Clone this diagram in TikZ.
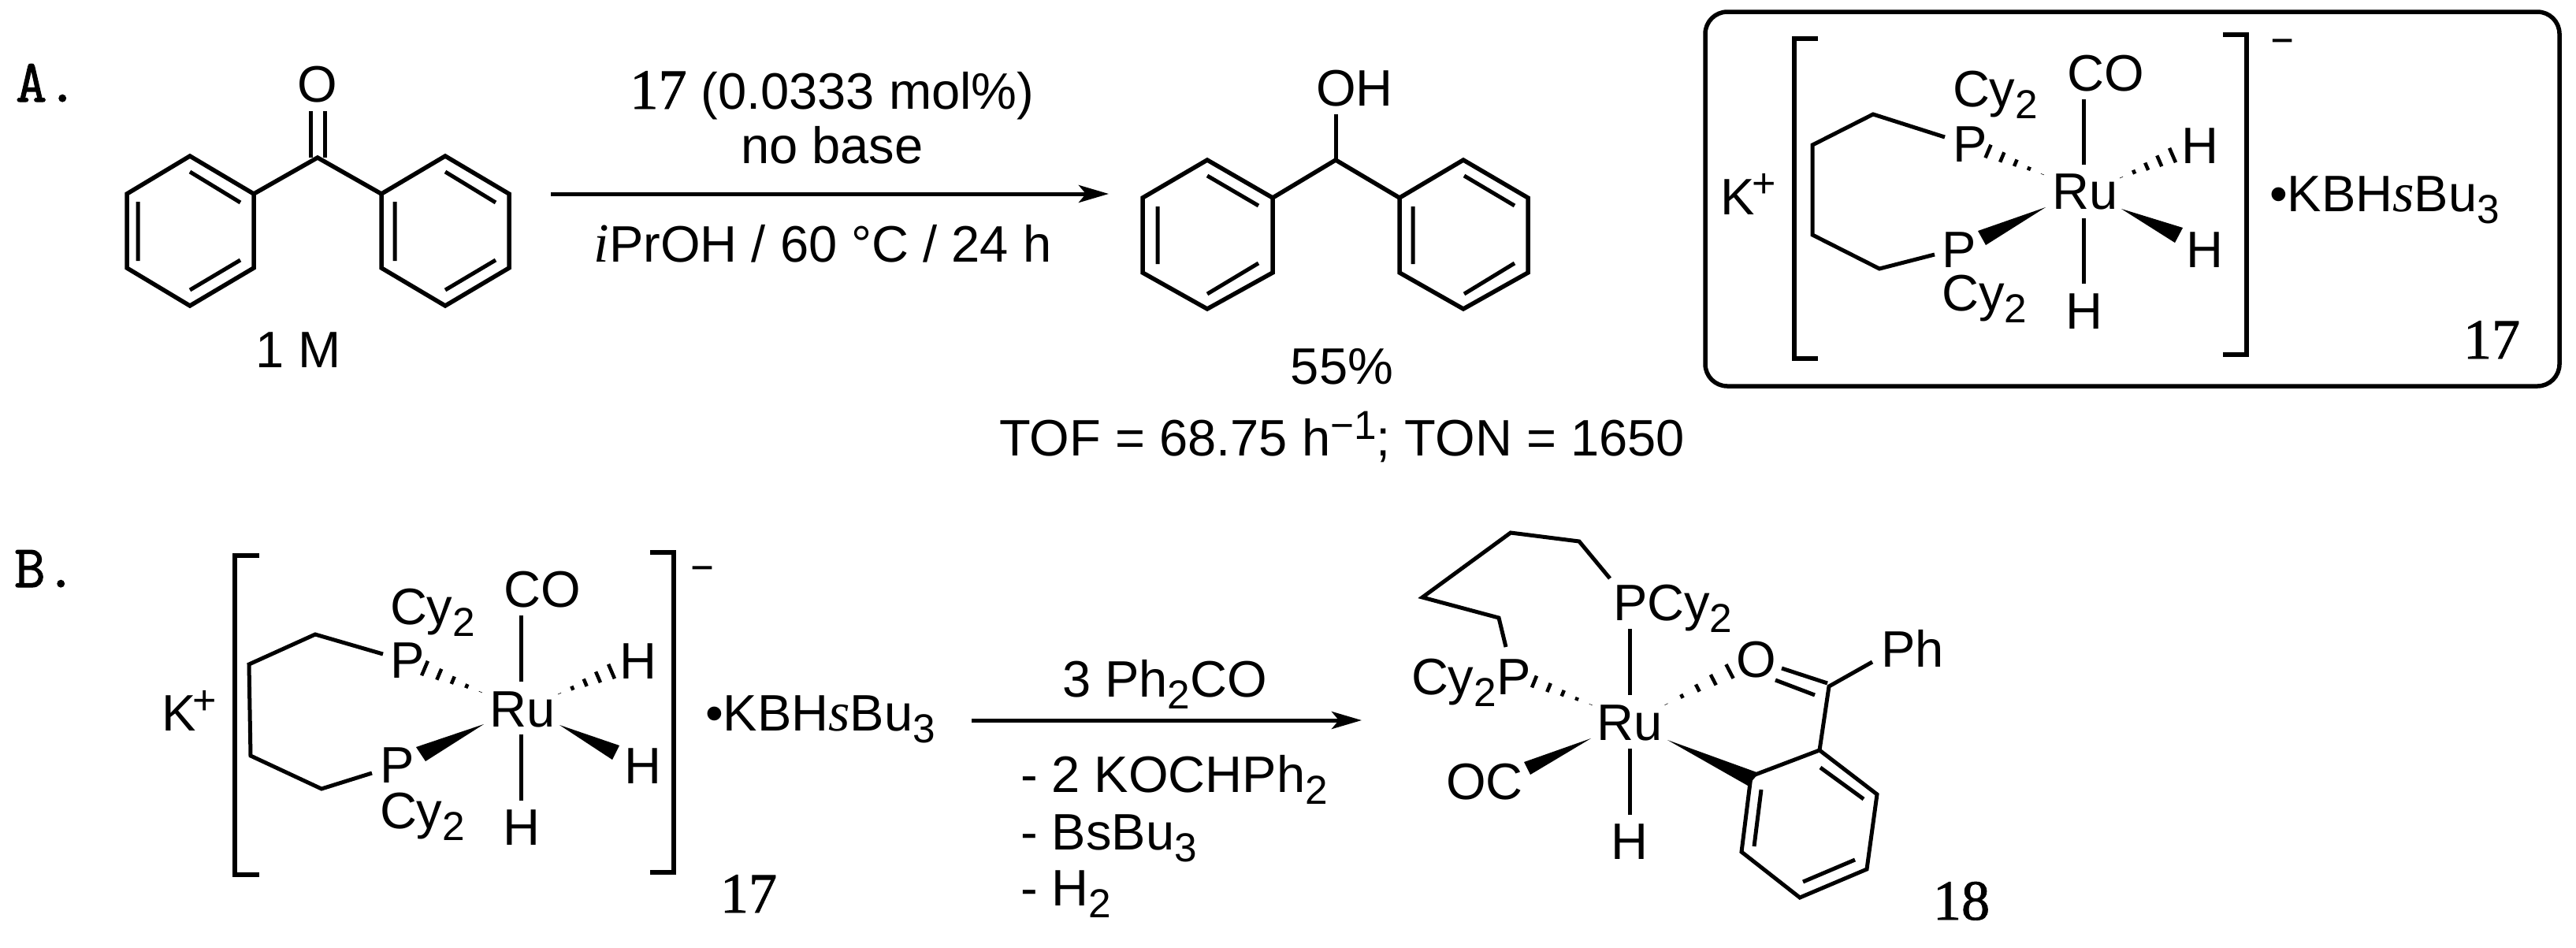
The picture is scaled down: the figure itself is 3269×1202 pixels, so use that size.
\documentclass[tikz,border=0pt]{standalone}
\usepackage{fontspec}
\setmainfont{Liberation Sans}
\newfontfamily\serifrm{Liberation Serif}
\newfontfamily\serifbd[FakeBold=1.2]{Liberation Serif}
\newfontfamily\monolab[FakeBold=1.5]{Latin Modern Mono}
\newfontfamily\dashfont[FakeBold=2.5]{Liberation Sans}
\usetikzlibrary{arrows.meta}
\newcommand{\sbs}[1]{\raisebox{-0.15cm}{\fontsize{14.6}{16}\selectfont #1}}
\newcommand{\itl}[1]{{\fontsize{20}{22}\serifrm\itshape #1}}
\newcommand{\hashbond}[5]{%
  \pgfmathsetmacro\hdx{#3-#1}\pgfmathsetmacro\hdy{#4-#2}%
  \pgfmathsetmacro\hlen{veclen(\hdx,\hdy)}%
  \pgfmathsetmacro\hnx{-\hdy/\hlen*#5}\pgfmathsetmacro\hny{\hdx/\hlen*#5}%
  \foreach \t in {0.03,0.27,0.51,0.75,1}{%
    \draw[hashline] ({#1+\t*\hdx+\t*\hnx},{#2+\t*\hdy+\t*\hny}) -- ({#1+\t*\hdx-\t*\hnx},{#2+\t*\hdy-\t*\hny});}}
\tikzset{
  every node/.style={inner sep=0pt,outer sep=0pt,font=\fontsize{18.5}{22}\selectfont},
  txt/.style={anchor=base west},
  txtc/.style={anchor=base},
  cen/.style={anchor=center},
  plusm/.style={anchor=center,font=\fontsize{14.8}{16}\selectfont},
  mns/.style={anchor=center,font=\fontsize{12}{14}\dashfont},
  lab/.style={anchor=base west,font=\fontsize{21.8}{24}\monolab},
  num/.style={anchor=base west,font=\fontsize{20.5}{22}\serifbd},
  bond/.style={line width=0.05cm,line cap=butt,line join=miter},
  ringb/.style={line width=0.055cm,line join=miter},
  hashline/.style={line width=0.045cm},
  wedgeb/.style={fill=black,draw=none},
  brk/.style={line width=0.065cm,line join=miter},
  rxn/.style={line width=0.05cm,-{Stealth[length=3.8mm,width=2.2mm,inset=0.9mm]}},
}
\begin{document}
\begin{tikzpicture}[x=0.01cm,y=-0.01cm]
\useasboundingbox (0,0) rectangle (3269,1202);
\fill[white] (0,0) rectangle (3269,1202);

% --- Section A
\node[lab] (labA) at (20,129) {A.};
% benzophenone
\draw[ringb] (241,198)--(322,246)--(322,340)--(241,388)--(161,340)--(161,246)--cycle;
\draw[ringb] (565,198)--(646,246)--(646,340)--(565,388)--(484,340)--(484,246)--cycle;
\draw[ringb] (322,246)--(403,200)--(484,246);
\draw[bond] (394,141)--(394,200) (412,141)--(412,200);
\draw[bond] (241,218)--(305,257) (175,256)--(175,331) (241,368)--(305,330);
\draw[bond] (565,218)--(629,257) (501,256)--(501,331) (565,368)--(629,330);
\node[txtc] (oA) at (403,129) {O};
\node[txtc] (oneM) at (379,466) {1 M};
% arrow A
\coordinate (a1) at (699,246); \coordinate (a2) at (1407,246);
\draw[rxn] (a1) -- (a2);
\node[txtc] (rA1) at (1056,138) {{\fontsize{20.5}{22}\serifbd 17} (0.0333 mol\%)};
\node[txtc] (rA2) at (1056,207) {no base};
\node[txtc] (rA3) at (1044,332) {\itl{i}PrOH / 60 °C / 24 h};
% benzhydrol
\draw[ringb] (1532,203)--(1615,251)--(1615,346)--(1532,392)--(1450,346)--(1450,251)--cycle;
\draw[ringb] (1857,203)--(1939,251)--(1939,346)--(1857,392)--(1776,346)--(1776,251)--cycle;
\draw[ringb] (1615,251)--(1695,203)--(1776,251);
\draw[bond] (1695,203)--(1695,145);
\draw[bond] (1532,223)--(1597,261) (1469,262)--(1469,335) (1532,373)--(1597,334);
\draw[bond] (1858,223)--(1922,261) (1793,262)--(1793,335) (1858,373)--(1922,334);
\node[txtc] (oh) at (1719,134) {OH};
\node[txtc] (yield) at (1703,487) {55\%};
\node[txtc] (tof) at (1703,578) {TOF = 68.75 h\raisebox{0.21cm}{\fontsize{14.6}{16}\selectfont −1}; TON = 1650};

% boxed complex 17
\draw[line width=0.055cm,rounded corners=0.28cm] (2164,15) rectangle (3248,490);
\draw[brk] (2307,49)--(2277,49)--(2277,455)--(2307,455);
\draw[brk] (2821,44)--(2851,44)--(2851,450)--(2821,450);
\node[mns] (mA) at (2896,56) {–};
\draw[bond] (2468,174)--(2377,145)--(2300,184)--(2300,298)--(2385,341)--(2455,323);
\draw[bond] (2644,126)--(2644,209) (2644,277)--(2644,360);
\node[txt] (kA) at (2183,272) {K};
\node[plusm] (kpA) at (2239,235) {+};
\node[txt] (p1A) at (2478,205) {P};
\node[txt] (p2A) at (2464,339) {P};
\node[txt] (cy1A) at (2478,135) {Cy\sbs{2}};
\node[txt] (cy2A) at (2464,394) {Cy\sbs{2}};
\node[txtc] (coA) at (2672,115) {CO};
\node[txtc] (ruA) at (2646,265) {Ru};
\node[txtc] (h1A) at (2645,417) {H};
\node[txtc] (h2A) at (2792,207) {H};
\node[txtc] (h3A) at (2798,339) {H};
\node[txt] (saltA) at (2880,268) {•KBH\itl{s}Bu\sbs{3}};
\node[num] (n17A) at (3126,455) {17};
\hashbond{2594}{222}{2523}{192}{9}
\hashbond{2690}{226}{2757}{197}{10}
\fill[wedgeb] (2596,263)--(2510,293)--(2520,311)--cycle;
\fill[wedgeb] (2692,265)--(2770,289)--(2760,308)--cycle;

% --- Section B
\node[lab] (labB) at (18,745) {B.};
\draw[brk] (329,705)--(298,705)--(298,1110)--(329,1110);
\draw[brk] (825,701)--(855,701)--(855,1107)--(825,1107);
\node[mns] (mB) at (891,725) {–};
\draw[bond] (486,830)--(400,805)--(316,843)--(318,959)--(408,1001)--(472,981);
\draw[bond] (661,781)--(661,865) (661,932)--(661,1016);
\node[txt] (kB) at (205,927) {K};
\node[plusm] (kpB) at (260,891) {+};
\node[txt] (p1B) at (495,860) {P};
\node[txt] (p2B) at (482,993) {P};
\node[txt] (cy1B) at (495,792) {Cy\sbs{2}};
\node[txt] (cy2B) at (482,1051) {Cy\sbs{2}};
\node[txtc] (coB) at (688,770) {CO};
\node[txtc] (ruB) at (663,922) {Ru};
\node[txtc] (h1B) at (662,1072) {H};
\node[txtc] (h2B) at (810,861) {H};
\node[txtc] (h3B) at (816,994) {H};
\node[txt] (saltB) at (895,927) {•KBH\itl{s}Bu\sbs{3}};
\node[num] (n17B) at (914,1158) {17};
\hashbond{612}{879}{539}{848}{10}
\hashbond{708}{881}{776}{852}{10}
\fill[wedgeb] (614,919)--(528,948)--(540,966)--cycle;
\fill[wedgeb] (710,920)--(786,946)--(777,964)--cycle;

% arrow B
\coordinate (b1) at (1233,914); \coordinate (b2) at (1728,914);
\draw[rxn] (b1) -- (b2);
\node[txtc] (rB1) at (1478,884) {3 Ph\sbs{2}CO};
\node[txt] (rB2) at (1295,1005) {- 2 KOCHPh\sbs{2}};
\node[txt] (rB3) at (1295,1078) {- BsBu\sbs{3}};
\node[txt] (rB4) at (1295,1149) {- H\sbs{2}};

% complex 18
\draw[bond] (2043,734)--(2004,687)--(1917,676)--(1805,758)--(1902,784)--(1911,821);
\draw[bond] (2068,798)--(2068,882) (2068,950)--(2068,1034);
\node[txt] (pcy) at (2047,787) {PCy\sbs{2}};
\node[txt] (cyp) at (1791,881) {Cy\sbs{2}P};
\node[txtc] (ru18) at (2068,939) {Ru};
\node[txtc] (h18) at (2068,1090) {H};
\node[txtc] (oc) at (1884,1014) {OC};
\node[txtc] (o18) at (2229,859) {O};
\node[txtc] (ph) at (2427,846) {Ph};
\draw[bond] (2261,848)--(2319,867) (2253,863)--(2303,882);
\draw[bond] (2376,840)--(2321,871)--(2309,952);
\draw[bond] (2222,985)--(2309,952)--(2382,1008)--(2369,1103)--(2284,1139)--(2210,1081)--(2222,985);
\draw[bond] (2310,974)--(2365,1014) (2235,1002)--(2226,1074) (2354,1091)--(2288,1119);
\hashbond{2021}{895}{1947}{865}{8}
\hashbond{2112}{895}{2195}{852}{10}
\fill[wedgeb] (2019,937)--(1934,967)--(1942,983)--cycle;
\fill[wedgeb] (2116,939)--(2232,981)--(2218,997)--cycle;
\node[num] (n18) at (2453,1167) {18};
\end{tikzpicture}
\end{document}
